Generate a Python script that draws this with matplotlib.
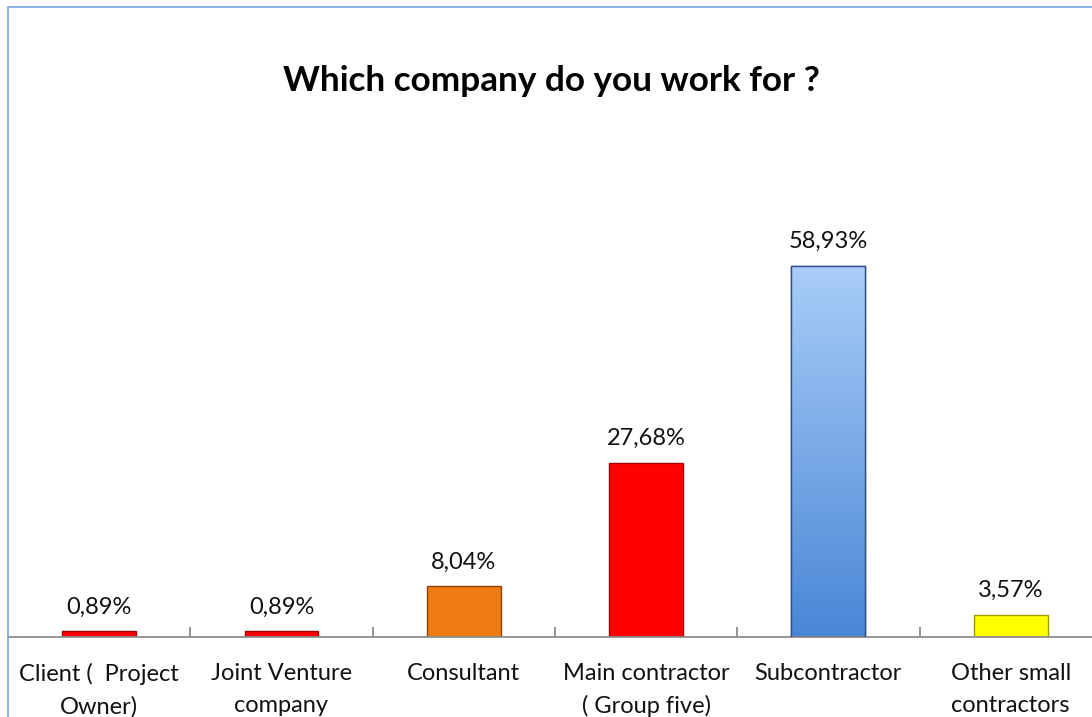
import matplotlib
matplotlib.use("Agg")
import matplotlib.pyplot as plt
import matplotlib.patches as mpatches
import numpy as np

plt.rcParams["font.family"] = ["Lato", "DejaVu Sans"]

categories = ["Client (  Project\nOwner)", "Joint Venture\ncompany", "Consultant",
              "Main contractor\n( Group five)", "Subcontractor", "Other small\ncontractors"]
values = [0.89, 0.89, 8.04, 27.68, 58.93, 3.57]
value_labels = ["0,89%", "0,89%", "8,04%", "27,68%", "58,93%", "3,57%"]
colors = ["#ff0000", "#ff0000", "#f07a12", "#ff0000", "#6a9fe6", "#ffff00"]
edges = ["#a00000", "#a00000", "#8a4206", "#a00000", "#2d4f80", "#9a9a00"]

W, H = 1092, 717
fig = plt.figure(figsize=(W / 100, H / 100), dpi=100)

# chart-area border (blue, cropped at right/bottom)
fig.add_artist(mpatches.Rectangle((8 / W, -0.1), 1.2, (H - 7) / H + 0.1,
                                  transform=fig.transFigure, fill=False,
                                  ec="#7aa6e0", lw=1.2))

ymax = 70
ax = fig.add_axes([8 / W, (H - 637) / H, 6 * 182.3 / W, (637 - 196) / H])
x = np.arange(len(categories))
bars = ax.bar(x, values, width=0.405, color=colors, edgecolor=edges, lw=1.0, zorder=2)

# gradient for the blue bar
b = bars[4]
grad = np.linspace(0, 1, 256).reshape(-1, 1)
cmap = matplotlib.colors.LinearSegmentedColormap.from_list("bl", ["#4a86d6", "#a9cdf8"])
im = ax.imshow(grad, cmap=cmap, aspect="auto", origin="lower",
               extent=[b.get_x(), b.get_x() + b.get_width(), 0, b.get_height()], zorder=2.5)
im.set_clip_path(b)
ax.bar(x[4], values[4], width=0.405, fill=False, edgecolor=edges[4], lw=1.0, zorder=3)

for xi, v, lbl in zip(x, values, value_labels):
    ax.annotate(lbl, (xi, v), xytext=(0, 10), textcoords="offset points",
                ha="center", va="bottom", fontsize=17, color="#111111")

ax.set_xlim(-0.5, 5.5)
ax.set_ylim(0, ymax)
ax.set_yticks([])
for s in ["top", "right", "left"]:
    ax.spines[s].set_visible(False)
ax.spines["bottom"].set_color("#8c8c8c")
ax.spines["bottom"].set_linewidth(1.3)
ax.set_xticks(np.arange(0.5, 5.5, 1.0))
ax.set_xticklabels([])
ax.tick_params(axis="x", direction="in", length=7, color="#8c8c8c", width=1.3)
ax.set_xticks(x, minor=True)
ax.set_xticklabels(categories, minor=True, fontsize=17, color="#111111",
                   va="top", linespacing=1.6)
ax.tick_params(axis="x", which="minor", length=0, pad=19)

fig.text(551 / W, 1 - 81 / H, "Which company do you work for ?", ha="center", va="center",
         fontsize=25.3, fontweight="bold", color="#000000")

fig.savefig("out.png", dpi=100)
